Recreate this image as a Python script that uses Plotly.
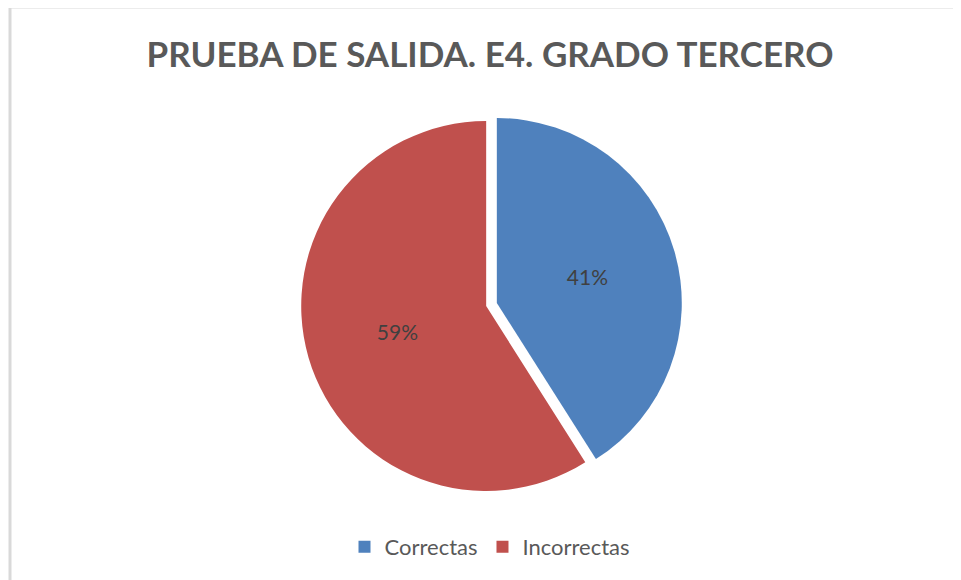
import plotly.graph_objects as go

categories = ["Correctas", "Incorrectas"]
values = [41, 59]
colors = ["#4f81bd", "#c0504d"]
title_text = "PRUEBA DE SALIDA. E4. GRADO TERCERO"

# The page body has an 8px margin, so the figure is laid out in page pixels minus 8.
OFF = 8
W, H = 961 - OFF, 580 - OFF


def px(x):
    return (x - OFF) / W


def py(y):
    return 1 - (y - OFF) / H


FONT = "Lato, Carlito, sans-serif"

fig = go.Figure()
fig.add_trace(go.Pie(
    labels=categories,
    values=values,
    sort=False,
    direction="clockwise",
    rotation=0,
    pull=[0.03, 0.03],
    marker=dict(colors=colors, line=dict(width=0)),
    texttemplate="%{percent:.0%}",
    textposition="inside",
    insidetextorientation="horizontal",
    textfont=dict(family=FONT, size=21, color="#404040"),
    hoverinfo="label+percent",
    domain=dict(x=[px(301), px(682)], y=[py(495), py(114)]),
    showlegend=True,
))

fig.update_layout(
    width=W, height=H,
    margin=dict(l=0, r=0, t=0, b=0),
    paper_bgcolor="white",
    plot_bgcolor="white",
    title=dict(
        text="<b>" + title_text + "</b>",
        x=px(490), xanchor="center",
        y=py(55), yanchor="middle",
        font=dict(family=FONT, size=35, color="#595959"),
    ),
    legend=dict(
        orientation="h",
        x=px(490), xanchor="center",
        y=py(547), yanchor="middle",
        font=dict(family=FONT, size=22, color="#595959"),
        itemwidth=30,
        traceorder="normal",
    ),
    shapes=[
        dict(type="line", xref="paper", yref="paper",
             x0=px(10), x1=1, y0=py(7), y1=py(7),
             line=dict(color="#d9d9d9", width=3)),
        dict(type="line", xref="paper", yref="paper",
             x0=px(10), x1=px(10), y0=0, y1=py(7),
             line=dict(color="#d9d9d9", width=3)),
    ],
)

fig.write_html("out.html")
